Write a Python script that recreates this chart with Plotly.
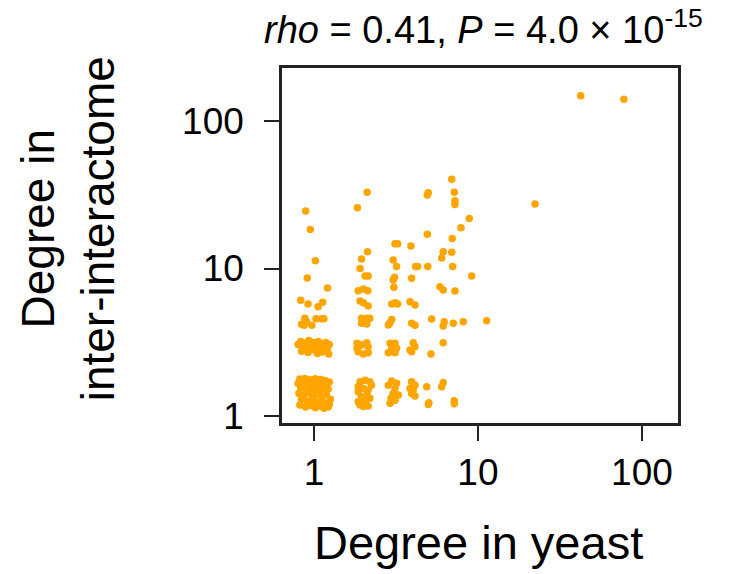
import plotly.graph_objects as go

# Values (jittered degrees, log-log scatter)
yeast_degree = [
    # yeast degree ~1, upper part
    0.89, 0.95, 1.02, 0.91, 1.21, 0.83, 0.92, 1.06, 1.13, 0.88, 1.03, 1.11, 1.15, 0.84, 0.90, 0.97, 0.87,
    # ~1, inter ~3
    0.80, 0.83, 0.86, 0.88, 0.91, 0.93, 0.95, 0.97, 0.99, 1.01, 1.03, 1.06, 1.08, 1.10, 1.13, 1.15, 1.18, 1.21, 1.24,
    0.84, 0.92, 1.05, 1.12, 1.23,
    # ~1, inter ~1.5
    0.82, 0.88, 0.95, 1.02, 1.10, 1.17, 1.24, 0.80, 0.86, 0.92, 0.99, 1.05, 1.12, 1.20,
    0.83, 0.90, 0.97, 1.03, 1.09, 1.15, 1.22, 0.81, 0.87, 0.94, 1.00, 1.07, 1.13, 1.19, 1.26,
    0.84, 0.91, 0.98, 1.04, 1.11, 1.17, 1.24, 0.82, 0.89, 0.96, 1.02, 1.08, 1.15, 1.22,
    # ~2
    2.11, 1.84, 2.12, 1.95, 1.91, 2.05, 2.14, 1.86, 2.00, 2.13, 1.91, 2.00, 2.14, 1.95, 2.10, 2.19, 1.95, 2.10,
    1.83, 1.95, 2.10, 2.14, 1.86, 2.00, 2.14, 1.83,
    1.91, 2.05, 2.19, 2.24, 1.86, 2.00, 2.14, 1.86, 2.10, 1.95, 2.19, 1.86, 2.05, 1.91, 2.14, 2.00,
    # ~3
    3.12, 3.24, 3.04, 3.19, 3.10, 3.04, 3.07, 2.98, 3.12, 3.24, 2.91, 2.98, 2.84,
    2.91, 3.12, 2.98, 3.19, 2.84, 3.12,
    2.98, 3.19, 2.84, 3.12, 3.04, 3.27, 2.95, 3.12, 2.91,
    # ~4
    3.90, 4.17, 4.29, 3.94, 3.85, 4.13, 3.94, 4.13,
    4.03, 4.13, 3.85, 3.94,
    3.94, 4.13, 3.85, 4.03, 3.94, 4.13,
    # >= 5
    6.92, 4.98, 4.91, 7.17, 7.24, 7.24, 8.85, 7.88, 4.91, 6.97,
    6.14, 6.01, 6.92, 4.94, 7.01, 9.16, 5.86, 6.14, 7.24, 5.22,
    6.23, 6.14, 7.07, 8.13, 11.3, 6.14, 5.17, 4.87, 6.14, 6.01,
    5.02, 4.98, 7.17, 7.17, 22.3, 42.3, 77.6,
]

inter_degree = [
    24.5, 18.4, 11.3, 8.62, 7.38, 6.09, 5.75, 5.51, 5.90, 4.60, 4.57, 4.57, 4.57, 4.19, 4.36, 4.12, 4.12,
    3.05, 3.20, 2.95, 3.12, 2.85, 3.25, 3.00, 2.90, 3.15, 2.80, 3.05, 3.20, 2.92, 3.10, 2.85, 3.00, 3.15, 2.90, 3.05,
    2.75, 2.70, 2.65, 2.72, 2.63,
    1.78, 1.80, 1.76, 1.79, 1.77, 1.74, 1.70, 1.66, 1.70, 1.62, 1.68, 1.60, 1.65, 1.60,
    1.55, 1.50, 1.56, 1.48, 1.53, 1.47, 1.52, 1.42, 1.38, 1.44, 1.36, 1.41, 1.35, 1.40, 1.30,
    1.30, 1.26, 1.31, 1.24, 1.28, 1.22, 1.20, 1.19, 1.15, 1.18, 1.14, 1.17, 1.13, 1.15,
    32.9, 25.8, 13.0, 11.6, 10.0, 8.90, 8.90, 7.08, 7.26, 7.08, 6.02, 5.87, 5.57, 4.60, 4.60, 4.60, 4.25, 4.21,
    3.11, 3.03, 3.14, 2.95, 2.73, 2.63, 2.69, 2.88,
    1.71, 1.75, 1.71, 1.62, 1.58, 1.54, 1.50, 1.46, 1.39, 1.35, 1.32, 1.25, 1.25, 1.19, 1.17, 1.16,
    14.7, 14.7, 11.4, 10.3, 8.71, 8.36, 7.46, 5.75, 5.87, 5.75, 4.29, 4.52, 4.14,
    3.11, 3.11, 2.88, 2.88, 2.69, 2.69,
    1.73, 1.67, 1.62, 1.54, 1.42, 1.39, 1.32, 1.28, 1.22,
    14.2, 10.3, 10.3, 8.58, 5.96, 5.66, 4.25, 4.12,
    3.14, 2.95, 2.80, 2.73,
    1.71, 1.62, 1.54, 1.50, 1.42, 1.37,
    40.3, 32.6, 31.5, 32.9, 28.8, 27.2, 21.8, 18.9, 17.1, 16.0,
    13.0, 11.8, 12.9, 10.3, 10.3, 8.90, 7.53, 7.15, 7.04, 4.54,
    4.36, 4.08, 4.25, 4.36, 4.43, 3.14, 2.63, 1.58, 1.69, 1.58,
    1.23, 1.20, 1.27, 1.21, 27.4, 148.5, 140.3,
]

tick_values = [1, 10, 100]
tick_labels = ["1", "10", "100"]

title_text = "<i>rho</i> = 0.41, <i>P</i> = 4.0 × 10<sup>-15</sup>"
x_title = "Degree in yeast"
y_title = "Degree in<br>inter-interactome"

FONT = "Liberation Sans, Arial, Helvetica, sans-serif"
LINE = "#222222"

fig = go.Figure(
    go.Scatter(
        x=yeast_degree,
        y=inter_degree,
        mode="markers",
        marker=dict(color="#FFA500", size=7.5, line=dict(width=0)),
        hoverinfo="x+y",
    )
)

axis_common = dict(
    type="log",
    tickvals=tick_values,
    ticktext=tick_labels,
    ticks="outside",
    ticklen=15,
    tickwidth=2,
    tickcolor=LINE,
    showline=True,
    linewidth=2.5,
    linecolor=LINE,
    mirror=True,
    showgrid=False,
    zeroline=False,
    tickfont=dict(family=FONT, size=37, color="black"),
)

fig.update_xaxes(range=[-0.195, 2.22], ticklabelstandoff=0, **axis_common)
fig.update_yaxes(range=[-0.047, 2.359], ticklabelstandoff=13, **axis_common)

# the page body adds an 8px offset; size the figure so the plot box lands
# at the same window pixels as the reference
fig.update_layout(
    width=728,
    height=566,
    margin=dict(l=274, r=58, t=60, b=151, pad=0),
    plot_bgcolor="white",
    paper_bgcolor="white",
    showlegend=False,
    font=dict(family=FONT, color="black"),
    annotations=[
        dict(text=title_text, xref="paper", yref="paper", x=0.51, y=1.116,
             xanchor="center", yanchor="middle", showarrow=False,
             font=dict(family=FONT, size=38, color="black")),
        dict(text=x_title, xref="paper", yref="paper", x=0.495, y=-0.338,
             xanchor="center", yanchor="middle", showarrow=False,
             font=dict(family=FONT, size=47, color="black")),
        dict(text=y_title, xref="paper", yref="paper", x=-0.540, y=0.546,
             xanchor="center", yanchor="middle", showarrow=False, textangle=-90,
             font=dict(family=FONT, size=46, color="black")),
    ],
)

fig.write_html("out.html")
